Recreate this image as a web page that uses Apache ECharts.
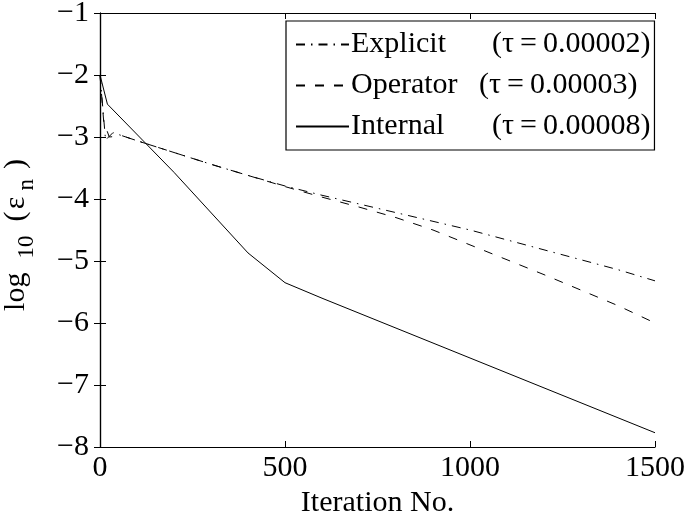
<!DOCTYPE html>
<html>
<head>
<meta charset="utf-8">
<script src="https://cdn.jsdelivr.net/npm/echarts@6/dist/echarts.min.js"></script>
<style>
  html, body { margin: 0; padding: 0; background: #fff; }
  #chart { width: 688px; height: 513px; }
</style>
</head>
<body>
<div id="chart"></div>
<script>
// Convergence of the residual for three time-stepping schemes
const explicitIter = [0, 15, 35, 100, 200, 300, 400, 500, 600, 700, 800, 900, 1000, 1100, 1200, 1300, 1400, 1500];
const explicitLog  = [-2, -3.05, -2.93, -3.06, -3.25, -3.44, -3.62, -3.79, -3.94, -4.08, -4.22, -4.36, -4.50, -4.66, -4.82, -4.98, -5.14, -5.32];

const operatorIter = [0, 10, 25, 60, 100, 200, 300, 400, 500, 600, 700, 800, 900, 1000, 1100, 1200, 1300, 1400, 1500];
const operatorLog  = [-2, -2.75, -3.0, -2.98, -3.06, -3.25, -3.44, -3.62, -3.80, -3.97, -4.13, -4.30, -4.50, -4.74, -4.98, -5.22, -5.47, -5.72, -6.0];

const internalIter = [0, 20, 200, 400, 500, 600, 1500];
const internalLog  = [-2, -2.47, -3.57, -4.87, -5.35, -5.60, -7.77];

const schemeNames = ['Explicit', 'Operator', 'Internal'];
const timeSteps   = ['0.00002', '0.00003', '0.00008'];
const seriesNames = schemeNames.map((n, i) => n + ' (τ = ' + timeSteps[i] + ')');

const xTicks = { min: 0, max: 1500, step: 500 };
const yTicks = { min: -8, max: -1, step: 1 };

const pairs = (xs, ys) => xs.map((x, i) => [x, ys[i]]);
const serif = "'Liberation Serif', 'Times New Roman', serif";
const minus = v => (v < 0 ? '\u2212' : '') + Math.abs(v);

const axisCommon = {
  axisLine: { show: true, lineStyle: { color: '#000', width: 1.2 } },
  axisTick: { show: true, inside: true, length: 6, lineStyle: { color: '#000', width: 1 } },
  splitLine: { show: false }
};

const chart = echarts.init(document.getElementById('chart'), null, { renderer: 'canvas' });
chart.setOption({
  animation: false,
  backgroundColor: '#fff',
  grid: { left: 100, right: 33, top: 13, bottom: 66, outerBoundsMode: 'none', containLabel: false },
  legend: {
    orient: 'vertical',
    left: 286,
    top: 21,
    padding: [8, 4, 8, 9],
    itemWidth: 53,
    itemHeight: 14,
    itemGap: 10,
    backgroundColor: '#fff',
    borderColor: '#000',
    borderWidth: 1.2,
    borderRadius: 0,
    itemStyle: { opacity: 0 },
    textStyle: {
      fontFamily: serif, fontSize: 30, color: '#000', lineHeight: 31, padding: [0, 0, 0, -3],
      rich: {
        n:  { fontFamily: serif, fontSize: 30, color: '#000', lineHeight: 31, width: 141 },
        no: { fontFamily: serif, fontSize: 30, color: '#000', lineHeight: 31, width: 128 },
        p:  { fontFamily: serif, fontSize: 30, color: '#000', lineHeight: 31 }
      }
    },
    formatter: name => {
      const i = seriesNames.indexOf(name);
      const key = schemeNames[i] === 'Operator' ? 'no' : 'n';
      return '{' + key + '|' + schemeNames[i] + '}{p|(τ\u2009=\u20090.' + timeSteps[i].slice(2) + ')}';
    },
    data: seriesNames
  },
  xAxis: [
    Object.assign({
      type: 'value', position: 'bottom', min: xTicks.min, max: xTicks.max, interval: xTicks.step,
      name: 'Iteration No.', nameLocation: 'middle', nameGap: 36,
      nameTextStyle: { fontFamily: serif, fontSize: 30, color: '#000' },
      axisLabel: { fontFamily: serif, fontSize: 30, color: '#000', margin: 6, formatter: v => String(v) }
    }, axisCommon),
    Object.assign({
      type: 'value', position: 'top', min: xTicks.min, max: xTicks.max, interval: xTicks.step,
      axisLabel: { show: false }
    }, axisCommon)
  ],
  yAxis: [
    Object.assign({
      type: 'value', position: 'left', min: yTicks.min, max: yTicks.max, interval: yTicks.step,
      name: '{m|log}{s|10}{m|(\u200aε}{t|n}{e|)}', nameLocation: 'middle', nameGap: 62, nameRotate: 90,
      nameTextStyle: {
        fontFamily: serif, color: '#000',
        rich: {
          m: { fontFamily: serif, fontSize: 30, color: '#000' },
          e: { fontFamily: serif, fontSize: 30, color: '#000', padding: [0, 10, 0, 0] },
          s: { fontFamily: serif, fontSize: 23, color: '#000', padding: [20, 14, 0, 14] },
          t: { fontFamily: serif, fontSize: 23, color: '#000', padding: [20, 10, 0, 6] }
        }
      },
      axisLabel: { fontFamily: serif, fontSize: 30, color: '#000', margin: 11, formatter: minus }
    }, axisCommon),
    Object.assign({
      type: 'value', position: 'right', min: yTicks.min, max: yTicks.max, interval: yTicks.step,
      axisLabel: { show: false }
    }, axisCommon)
  ],
  series: [
    {
      name: seriesNames[0], type: 'line', symbol: 'none', data: pairs(explicitIter, explicitLog),
      lineStyle: { color: '#000', width: 1, type: [9, 6, 1.5, 6] }, itemStyle: { color: '#000' }
    },
    {
      name: seriesNames[1], type: 'line', symbol: 'none', data: pairs(operatorIter, operatorLog),
      lineStyle: { color: '#000', width: 1, type: [9, 10] }, itemStyle: { color: '#000' }
    },
    {
      name: seriesNames[2], type: 'line', symbol: 'none', data: pairs(internalIter, internalLog),
      lineStyle: { color: '#000', width: 1, type: 'solid' }, itemStyle: { color: '#000' }
    }
  ]
});
</script>
</body>
</html>
